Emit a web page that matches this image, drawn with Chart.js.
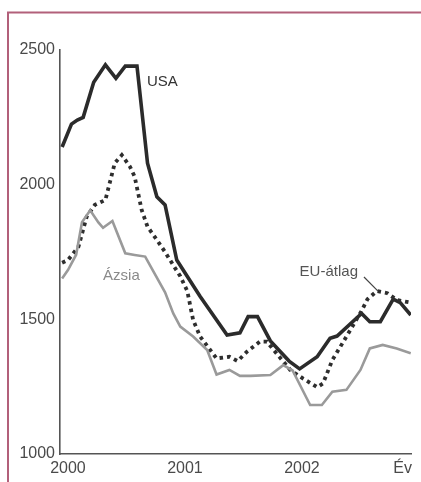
<!DOCTYPE html>
<html>
<head>
<meta charset="utf-8">
<script src="https://cdn.jsdelivr.net/npm/chart.js@4/dist/chart.umd.min.js"></script>
<style>
  html, body { margin: 0; padding: 0; background: #ffffff; }
  canvas { display: block; }
</style>
</head>
<body>
<canvas id="chart" width="421" height="482"></canvas>
<script>
// USA (solid black)
const usaYears = [1999.95, 2000.03, 2000.08, 2000.13, 2000.22, 2000.32, 2000.41, 2000.49, 2000.59, 2000.68,
                  2000.76, 2000.83, 2000.93, 2001.13, 2001.36, 2001.47, 2001.54, 2001.62, 2001.73, 2001.89,
                  2001.98, 2002.13, 2002.24, 2002.30, 2002.51, 2002.58, 2002.67, 2002.78, 2002.84, 2002.93];
const usaValues = [2140, 2225, 2240, 2250, 2380, 2445, 2395, 2440, 2440, 2080,
                   1955, 1925, 1720, 1585, 1442, 1450, 1510, 1510, 1420, 1345,
                   1316, 1361, 1430, 1438, 1522, 1491, 1491, 1575, 1562, 1516];

// EU-átlag (dotted black)
const euYears = [1999.95, 2000.00, 2000.09, 2000.16, 2000.23, 2000.32, 2000.40, 2000.46, 2000.53, 2000.57,
                 2000.63, 2000.68, 2000.76, 2000.83, 2000.89, 2000.96, 2001.02, 2001.07, 2001.13, 2001.27,
                 2001.38, 2001.45, 2001.53, 2001.64, 2001.70, 2001.90, 2002.01, 2002.13, 2002.18, 2002.26,
                 2002.38, 2002.51, 2002.56, 2002.64, 2002.73, 2002.81, 2002.93];
const euValues = [1710, 1720, 1770, 1881, 1925, 1943, 2080, 2110, 2067, 2030,
                  1906, 1844, 1795, 1750, 1708, 1660, 1605, 1497, 1436, 1355,
                  1361, 1345, 1380, 1417, 1417, 1312, 1280, 1248, 1262, 1349,
                  1436, 1532, 1575, 1605, 1597, 1572, 1562];

// Ázsia (grey)
const asiaYears = [1999.95, 2000.00, 2000.07, 2000.12, 2000.19, 2000.26, 2000.30, 2000.38, 2000.49, 2000.57,
                   2000.66, 2000.83, 2000.90, 2000.96, 2001.07, 2001.19, 2001.27, 2001.38, 2001.47, 2001.56,
                   2001.73, 2001.84, 2001.92, 2002.07, 2002.17, 2002.26, 2002.38, 2002.50, 2002.58, 2002.69,
                   2002.81, 2002.93];
const asiaValues = [1652, 1683, 1740, 1860, 1905, 1860, 1840, 1865, 1745, 1739,
                    1733, 1600, 1522, 1473, 1436, 1386, 1295, 1312, 1290, 1290,
                    1293, 1330, 1310, 1182, 1182, 1231, 1238, 1312, 1392, 1405,
                    1392, 1374];

// Axis ticks
const xTickValues = [2000, 2001, 2002, 2002.86];
const xTickLabels = ['2000', '2001', '2002', 'Év'];
const yTickValues = [1000, 1500, 2000, 2500];

// Series labels written next to the lines (data coordinates)
const seriesLabels = [
  { text: 'USA',      x: 2000.675, y: 2381, color: '#333333' },
  { text: 'Ázsia',    x: 2000.30,  y: 1661, color: '#8a8a8a' },
  { text: 'EU-átlag', x: 2001.98,  y: 1676, color: '#555555' }
];
const euPointer = { from: [2002.53, 1657], to: [2002.65, 1605] };

const FONT = "'Liberation Sans', Arial, sans-serif";

const pairs = (xs, ys) => xs.map((x, i) => ({ x: x, y: ys[i] }));

const decorations = {
  id: 'decorations',
  beforeDraw(chart) {
    const ctx = chart.ctx;
    ctx.save();
    ctx.strokeStyle = '#b2607a';
    ctx.lineWidth = 2;
    ctx.beginPath();
    ctx.moveTo(8, 482);
    ctx.lineTo(8, 12.5);
    ctx.lineTo(421, 12.5);
    ctx.stroke();
    ctx.restore();
  },
  afterDraw(chart) {
    const ctx = chart.ctx;
    const xs = chart.scales.x, ys = chart.scales.y;
    ctx.save();
    ctx.font = '15px ' + FONT;
    ctx.textAlign = 'left';
    ctx.textBaseline = 'middle';
    seriesLabels.forEach(l => {
      ctx.fillStyle = l.color;
      ctx.fillText(l.text, xs.getPixelForValue(l.x), ys.getPixelForValue(l.y));
    });
    ctx.strokeStyle = '#444444';
    ctx.lineWidth = 1.2;
    ctx.beginPath();
    ctx.moveTo(xs.getPixelForValue(euPointer.from[0]), ys.getPixelForValue(euPointer.from[1]));
    ctx.lineTo(xs.getPixelForValue(euPointer.to[0]), ys.getPixelForValue(euPointer.to[1]));
    ctx.stroke();
    ctx.restore();
  }
};

new Chart(document.getElementById('chart'), {
  type: 'line',
  data: {
    datasets: [
      {
        label: 'Ázsia',
        data: pairs(asiaYears, asiaValues),
        borderColor: '#9a9a9a',
        borderWidth: 2.6,
        pointRadius: 0,
        tension: 0,
        fill: false
      },
      {
        label: 'EU-átlag',
        data: pairs(euYears, euValues),
        borderColor: '#2e2e2e',
        borderWidth: 3.8,
        borderDash: [3.5, 4],
        borderCapStyle: 'butt',
        pointRadius: 0,
        tension: 0,
        fill: false
      },
      {
        label: 'USA',
        data: pairs(usaYears, usaValues),
        borderColor: '#2b2b2b',
        borderWidth: 3.6,
        borderJoinStyle: 'miter',
        pointRadius: 0,
        tension: 0,
        fill: false
      }
    ]
  },
  options: {
    responsive: false,
    animation: false,
    devicePixelRatio: 1,
    layout: { padding: { top: 50, right: 10, left: 0, bottom: 0 } },
    plugins: { legend: { display: false }, tooltip: { enabled: false } },
    scales: {
      x: {
        type: 'linear',
        min: 1999.932,
        max: 2002.932,
        grid: { display: false, drawTicks: false },
        border: { display: true, color: '#555555', width: 1.6 },
        afterBuildTicks: s => { s.ticks = xTickValues.map(v => ({ value: v })); },
        afterFit: s => { s.height = 28; },
        ticks: {
          autoSkip: false,
          maxRotation: 0,
          padding: 5,
          color: '#4a4a4a',
          font: { family: FONT, size: 16 },
          callback: (v, i) => xTickLabels[i]
        }
      },
      y: {
        type: 'linear',
        min: 1000,
        max: 2500,
        grid: { display: false, drawTicks: false },
        border: { display: true, color: '#555555', width: 1.6 },
        afterBuildTicks: s => { s.ticks = yTickValues.map(v => ({ value: v })); },
        afterFit: s => { s.width = 60; },
        ticks: {
          padding: 5,
          color: '#4a4a4a',
          font: { family: FONT, size: 16 },
          callback: v => String(v)
        }
      }
    }
  },
  plugins: [decorations]
});
</script>
</body>
</html>
